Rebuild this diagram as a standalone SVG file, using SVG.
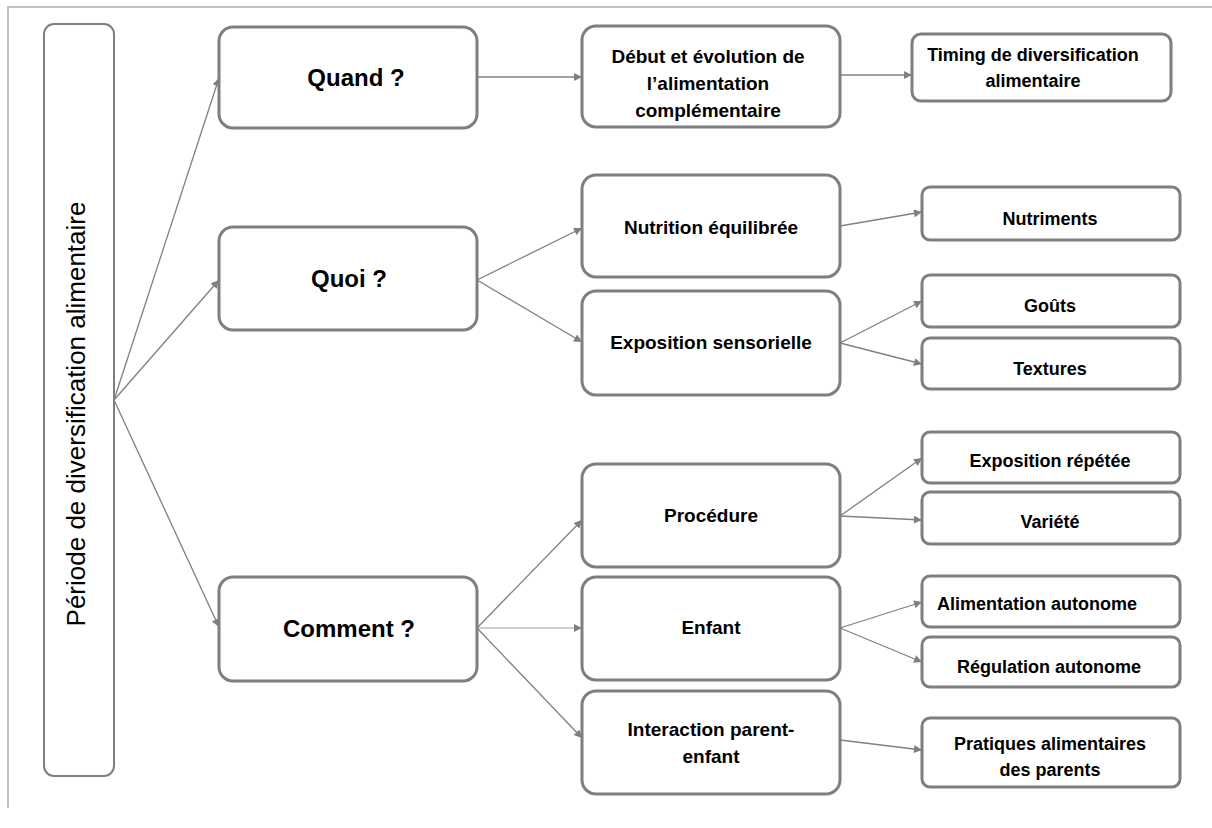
<svg xmlns="http://www.w3.org/2000/svg" width="1212" height="828" viewBox="0 0 1212 828">
<defs>
<marker id="ah" viewBox="0 0 10 10" markerUnits="userSpaceOnUse" markerWidth="9" markerHeight="8" refX="10" refY="5" orient="auto">
<path d="M0,0 L10,5 L0,10 z" fill="#7f7f7f"/>
</marker>
<style>
.bg{fill:#ffffff}
.frame{fill:none;stroke:#bfbfbf;stroke-width:2}
.big{fill:#ffffff;stroke:#7f7f7f;stroke-width:3}
.main{fill:#ffffff;stroke:#7f7f7f;stroke-width:2}
.c{fill:none;stroke:#808080;stroke-width:1.3;marker-end:url(#ah)}
.cl{fill:none;stroke:#bdbdbd;stroke-width:1.5;marker-end:url(#ah)}
.t1{font-family:"Liberation Sans",Arial,sans-serif;font-weight:bold;font-size:24px;fill:#000;text-anchor:middle}
.t3{font-family:"Liberation Sans",Arial,sans-serif;font-weight:bold;font-size:19px;fill:#000;text-anchor:middle}
.t2{font-family:"Liberation Sans",Arial,sans-serif;font-weight:bold;font-size:18px;fill:#000;text-anchor:middle}
.t0{font-family:"Liberation Sans",Arial,sans-serif;font-size:26px;fill:#000;text-anchor:middle}
</style>
</defs>
<rect class="bg" x="0" y="0" width="1212" height="828"/>
<path class="frame" d="M8,808 V7 H1212"/>

<g id="connectors">
<line class="c" x1="114" y1="400" x2="219" y2="78"/>
<line class="c" x1="114" y1="400" x2="219" y2="280"/>
<line class="c" x1="114" y1="400" x2="219" y2="627"/>
<line class="c" x1="477" y1="77" x2="582" y2="77"/>
<line class="c" x1="477" y1="280" x2="582" y2="228"/>
<line class="c" x1="477" y1="280" x2="582" y2="342"/>
<line class="c" x1="477" y1="628" x2="582" y2="520"/>
<line class="cl" x1="477" y1="628" x2="582" y2="628"/>
<line class="c" x1="477" y1="628" x2="582" y2="738"/>
<line class="c" x1="840" y1="75" x2="912" y2="75"/>
<line class="c" x1="840" y1="226" x2="922" y2="212"/>
<line class="c" x1="840" y1="343" x2="922" y2="301"/>
<line class="c" x1="840" y1="343" x2="922" y2="364"/>
<line class="c" x1="840" y1="516" x2="922" y2="458"/>
<line class="c" x1="840" y1="516" x2="922" y2="520"/>
<line class="c" x1="840" y1="628" x2="922" y2="602"/>
<line class="c" x1="840" y1="628" x2="922" y2="662"/>
<line class="c" x1="840" y1="740" x2="922" y2="750"/>
</g>

<g id="periode">
<rect class="main" x="44" y="24" width="70" height="752" rx="10"/>
<text class="t0" transform="translate(85,414) rotate(-90)">Période de diversification alimentaire</text>
</g>

<g id="quand">
<rect class="big" x="219" y="27" width="258" height="101" rx="14"/>
<text class="t1" x="356" y="86">Quand ?</text>
</g>
<g id="quoi">
<rect class="big" x="219" y="227" width="258" height="103" rx="14"/>
<text class="t1" x="349" y="287">Quoi ?</text>
</g>
<g id="comment">
<rect class="big" x="219" y="577" width="258" height="104" rx="14"/>
<text class="t1" x="349" y="637">Comment ?</text>
</g>

<g id="debut">
<rect class="big" x="582" y="26" width="258" height="101" rx="14"/>
<text class="t3" x="708" y="63">Début et évolution de</text>
<text class="t3" x="708" y="90">l’alimentation</text>
<text class="t3" x="708" y="117">complémentaire</text>
</g>
<g id="nutrition">
<rect class="big" x="582" y="175" width="258" height="102" rx="14"/>
<text class="t3" x="711" y="234">Nutrition équilibrée</text>
</g>
<g id="exposition">
<rect class="big" x="582" y="291" width="258" height="104" rx="14"/>
<text class="t3" x="711" y="349">Exposition sensorielle</text>
</g>
<g id="procedure">
<rect class="big" x="582" y="464" width="258" height="103" rx="14"/>
<text class="t3" x="711" y="522">Procédure</text>
</g>
<g id="enfant">
<rect class="big" x="582" y="577" width="258" height="103" rx="14"/>
<text class="t3" x="711" y="634">Enfant</text>
</g>
<g id="interaction">
<rect class="big" x="582" y="691" width="258" height="103" rx="14"/>
<text class="t3" x="711" y="736">Interaction parent-</text>
<text class="t3" x="711" y="763">enfant</text>
</g>

<g id="timing">
<rect class="big" x="912" y="34" width="259" height="67" rx="9"/>
<text class="t2" x="1033" y="61">Timing de diversification</text>
<text class="t2" x="1033" y="87">alimentaire</text>
</g>
<g id="nutriments">
<rect class="big" x="922" y="187" width="258" height="53" rx="8"/>
<text class="t2" x="1050" y="225">Nutriments</text>
</g>
<g id="gouts">
<rect class="big" x="922" y="275" width="258" height="52" rx="8"/>
<text class="t2" x="1050" y="312">Goûts</text>
</g>
<g id="textures">
<rect class="big" x="922" y="338" width="258" height="51" rx="8"/>
<text class="t2" x="1050" y="375">Textures</text>
</g>
<g id="exporep">
<rect class="big" x="922" y="432" width="258" height="51" rx="8"/>
<text class="t2" x="1050" y="467">Exposition répétée</text>
</g>
<g id="variete">
<rect class="big" x="922" y="492" width="258" height="52" rx="8"/>
<text class="t2" x="1050" y="528">Variété</text>
</g>
<g id="alimauto">
<rect class="big" x="922" y="576" width="258" height="51" rx="8"/>
<text class="t2" x="937" y="610" style="text-anchor:start">Alimentation autonome</text>
</g>
<g id="regulation">
<rect class="big" x="922" y="637" width="258" height="50" rx="8"/>
<text class="t2" x="1049" y="673">Régulation autonome</text>
</g>
<g id="pratiques">
<rect class="big" x="922" y="718" width="258" height="69" rx="8"/>
<text class="t2" x="1050" y="750">Pratiques alimentaires</text>
<text class="t2" x="1050" y="776">des parents</text>
</g>
</svg>
